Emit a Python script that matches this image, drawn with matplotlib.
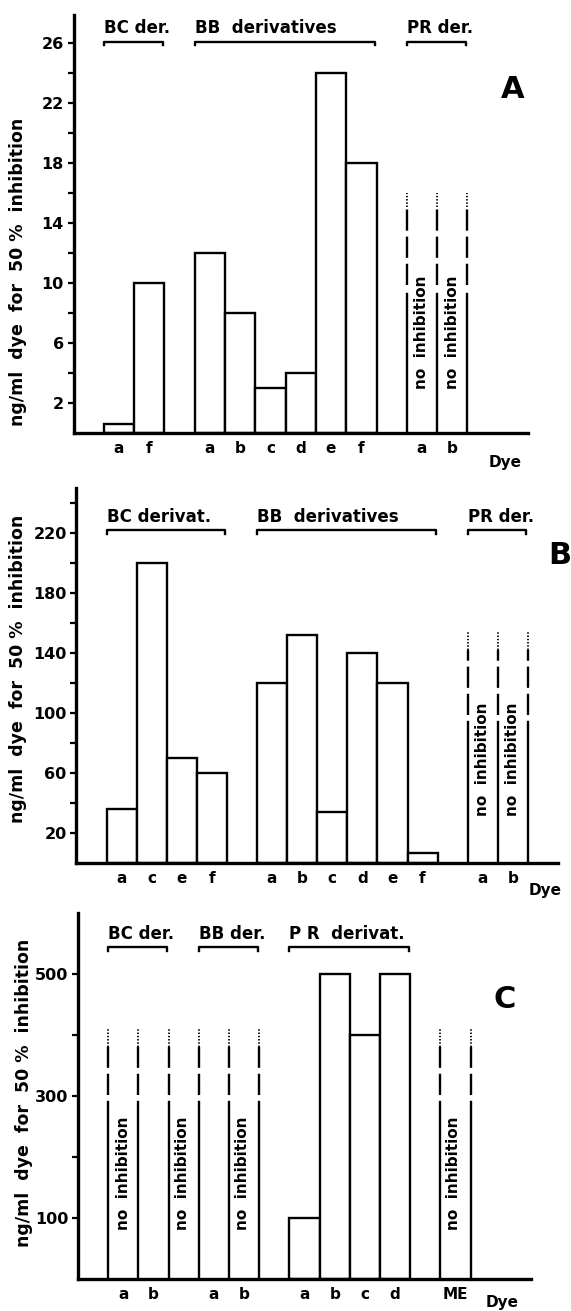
import matplotlib
matplotlib.use("Agg")
import matplotlib.pyplot as plt

# ---------------- data ----------------
A_groups = ["BC der.", "BB  derivatives", "PR der."]
A_dyes = [["a", "f"], ["a", "b", "c", "d", "e", "f"], ["a", "b"]]
A_values = [[0.6, 10], [12, 8, 3, 4, 24, 18], [None, None]]
A_yticks = [2, 6, 10, 14, 18, 22, 26]
A_yminor = [4, 8, 12, 16, 20, 24]

B_groups = ["BC derivat.", "BB  derivatives", "PR der."]
B_dyes = [["a", "c", "e", "f"], ["a", "b", "c", "d", "e", "f"], ["a", "b"]]
B_values = [[36, 200, 70, 60], [120, 152, 34, 140, 120, 7], [None, None]]
B_yticks = [20, 60, 100, 140, 180, 220]
B_yminor = [40, 80, 120, 160, 200, 240]

C_groups = ["BC der.", "BB der.", "P R  derivat.", ""]
C_dyes = [["a", "b"], ["a", "b"], ["a", "b", "c", "d"], ["ME"]]
C_values = [[None, None], [None, None], [100, 500, 400, 500], [None]]
C_yticks = [100, 300, 500]
C_yminor = [200, 400]

ylabel = "ng/ml  dye  for  50 %  inhibition"
note = "no  inhibition"

# ---------------- layout ----------------
W, H = 571, 1311
plt.rcParams["font.family"] = "DejaVu Sans"
plt.rcParams["font.weight"] = "bold"

fig = plt.figure(figsize=(W / 100, H / 100), dpi=100)


def px(x, y):
    return x / W, 1 - y / H


def box(left, right, top, bottom):
    return [left / W, 1 - bottom / H, (right - left) / W, (bottom - top) / H]


def draw_panel(ax, groups, dyes, values, yticks, yminor, xmax, ymax,
               bracket_y, note_x, note_y, solid_top, dash_top, dot_top):
    # slot positions: one empty slot between groups
    pos, start = [], 1
    for g in dyes:
        pos.append(list(range(start, start + len(g))))
        start += len(g) + 1

    xs, hs, edges = [], [], set()
    for p, v in zip(pos, values):
        for x, h in zip(p, v):
            if h is None:
                edges.update([x, x + 1])
            else:
                xs.append(x)
                hs.append(h)

    ax.bar(xs, hs, width=1, align="edge", facecolor="white",
           edgecolor="black", linewidth=1.7, zorder=2)

    # "no inhibition": solid, then dashed, then dotted
    for x in sorted(edges):
        ax.plot([x, x], [0, solid_top], color="black", lw=1.7)
        ax.plot([x, x], [solid_top + ymax * 0.02, dash_top], color="black",
                lw=1.7, linestyle=(0, (9, 2.5)))
        ax.plot([x, x], [dash_top, dot_top], color="black",
                lw=1.3, linestyle=(0, (0.8, 1.0)))

    for x in note_x:
        ax.text(x, note_y, note, rotation=90, ha="center", va="center",
                fontsize=11, fontweight="bold")

    # group brackets
    hook = ymax * 3.5 / (ax.get_position().height * H)
    for name, p in zip(groups, pos):
        if not name:
            continue
        x0, x1 = p[0], p[-1] + 0.95
        ax.plot([x0, x0, x1, x1], [bracket_y - hook, bracket_y, bracket_y,
                bracket_y - hook], color="black", lw=1.7, clip_on=False)
        ax.annotate(name, (x0, bracket_y), xytext=(0, 6),
                    textcoords="offset points", ha="left", va="baseline",
                    fontsize=12, fontweight="bold")

    ax.set_xlim(0, xmax)
    ax.set_ylim(0, ymax)
    ax.set_xticks([x + 0.5 for p in pos for x in p])
    ax.set_xticklabels([d for g in dyes for d in g], fontsize=11,
                       fontweight="bold")
    ax.tick_params(axis="x", length=0, pad=6)
    ax.set_yticks(yticks)
    ax.set_yticks(yminor, minor=True)
    ax.set_yticklabels([str(t) for t in yticks], fontsize=11.5,
                       fontweight="bold")
    ax.tick_params(axis="y", which="both", direction="out", length=4,
                   width=1.6, pad=3)

    for s in ["top", "right"]:
        ax.spines[s].set_visible(False)
    for s in ["left", "bottom"]:
        ax.spines[s].set_linewidth(2.4)
        ax.spines[s].set_zorder(3)


axA = fig.add_axes(box(73.5, 528, 15, 433))
draw_panel(axA, A_groups, A_dyes, A_values, A_yticks, A_yminor, 15, 27.87,
           26.1, [11.5, 12.5], 6.7, 9.3, 15.1, 16)

axB = fig.add_axes(box(76.4, 558, 488, 863))
draw_panel(axB, B_groups, B_dyes, B_values, B_yticks, B_yminor, 16, 250,
           222, [13.5, 14.5], 69, 94, 142, 155)

axC = fig.add_axes(box(78, 531, 913, 1279))
draw_panel(axC, C_groups, C_dyes, C_values, C_yticks, C_yminor, 15, 600,
           544, [1.5, 3.45, 5.45, 12.45], 174, 290, 380, 410)

# axis titles and panel letters
for (x, y) in [(18, 272), (18, 669), (24, 1093)]:
    fig.text(*px(x, y), ylabel, rotation=90, ha="center", va="center",
             fontsize=12.5, fontweight="bold")

for (x, y) in [(505, 462), (545, 890), (502, 1303)]:
    fig.text(*px(x, y), "Dye", ha="center", va="center",
             fontsize=11, fontweight="bold")

for letter, (x, y) in zip("ABC", [(513, 90), (560, 555), (505, 1000)]):
    fig.text(*px(x, y), letter, ha="center", va="center",
             fontsize=22, fontweight="bold")

fig.savefig("out.png", dpi=100)
